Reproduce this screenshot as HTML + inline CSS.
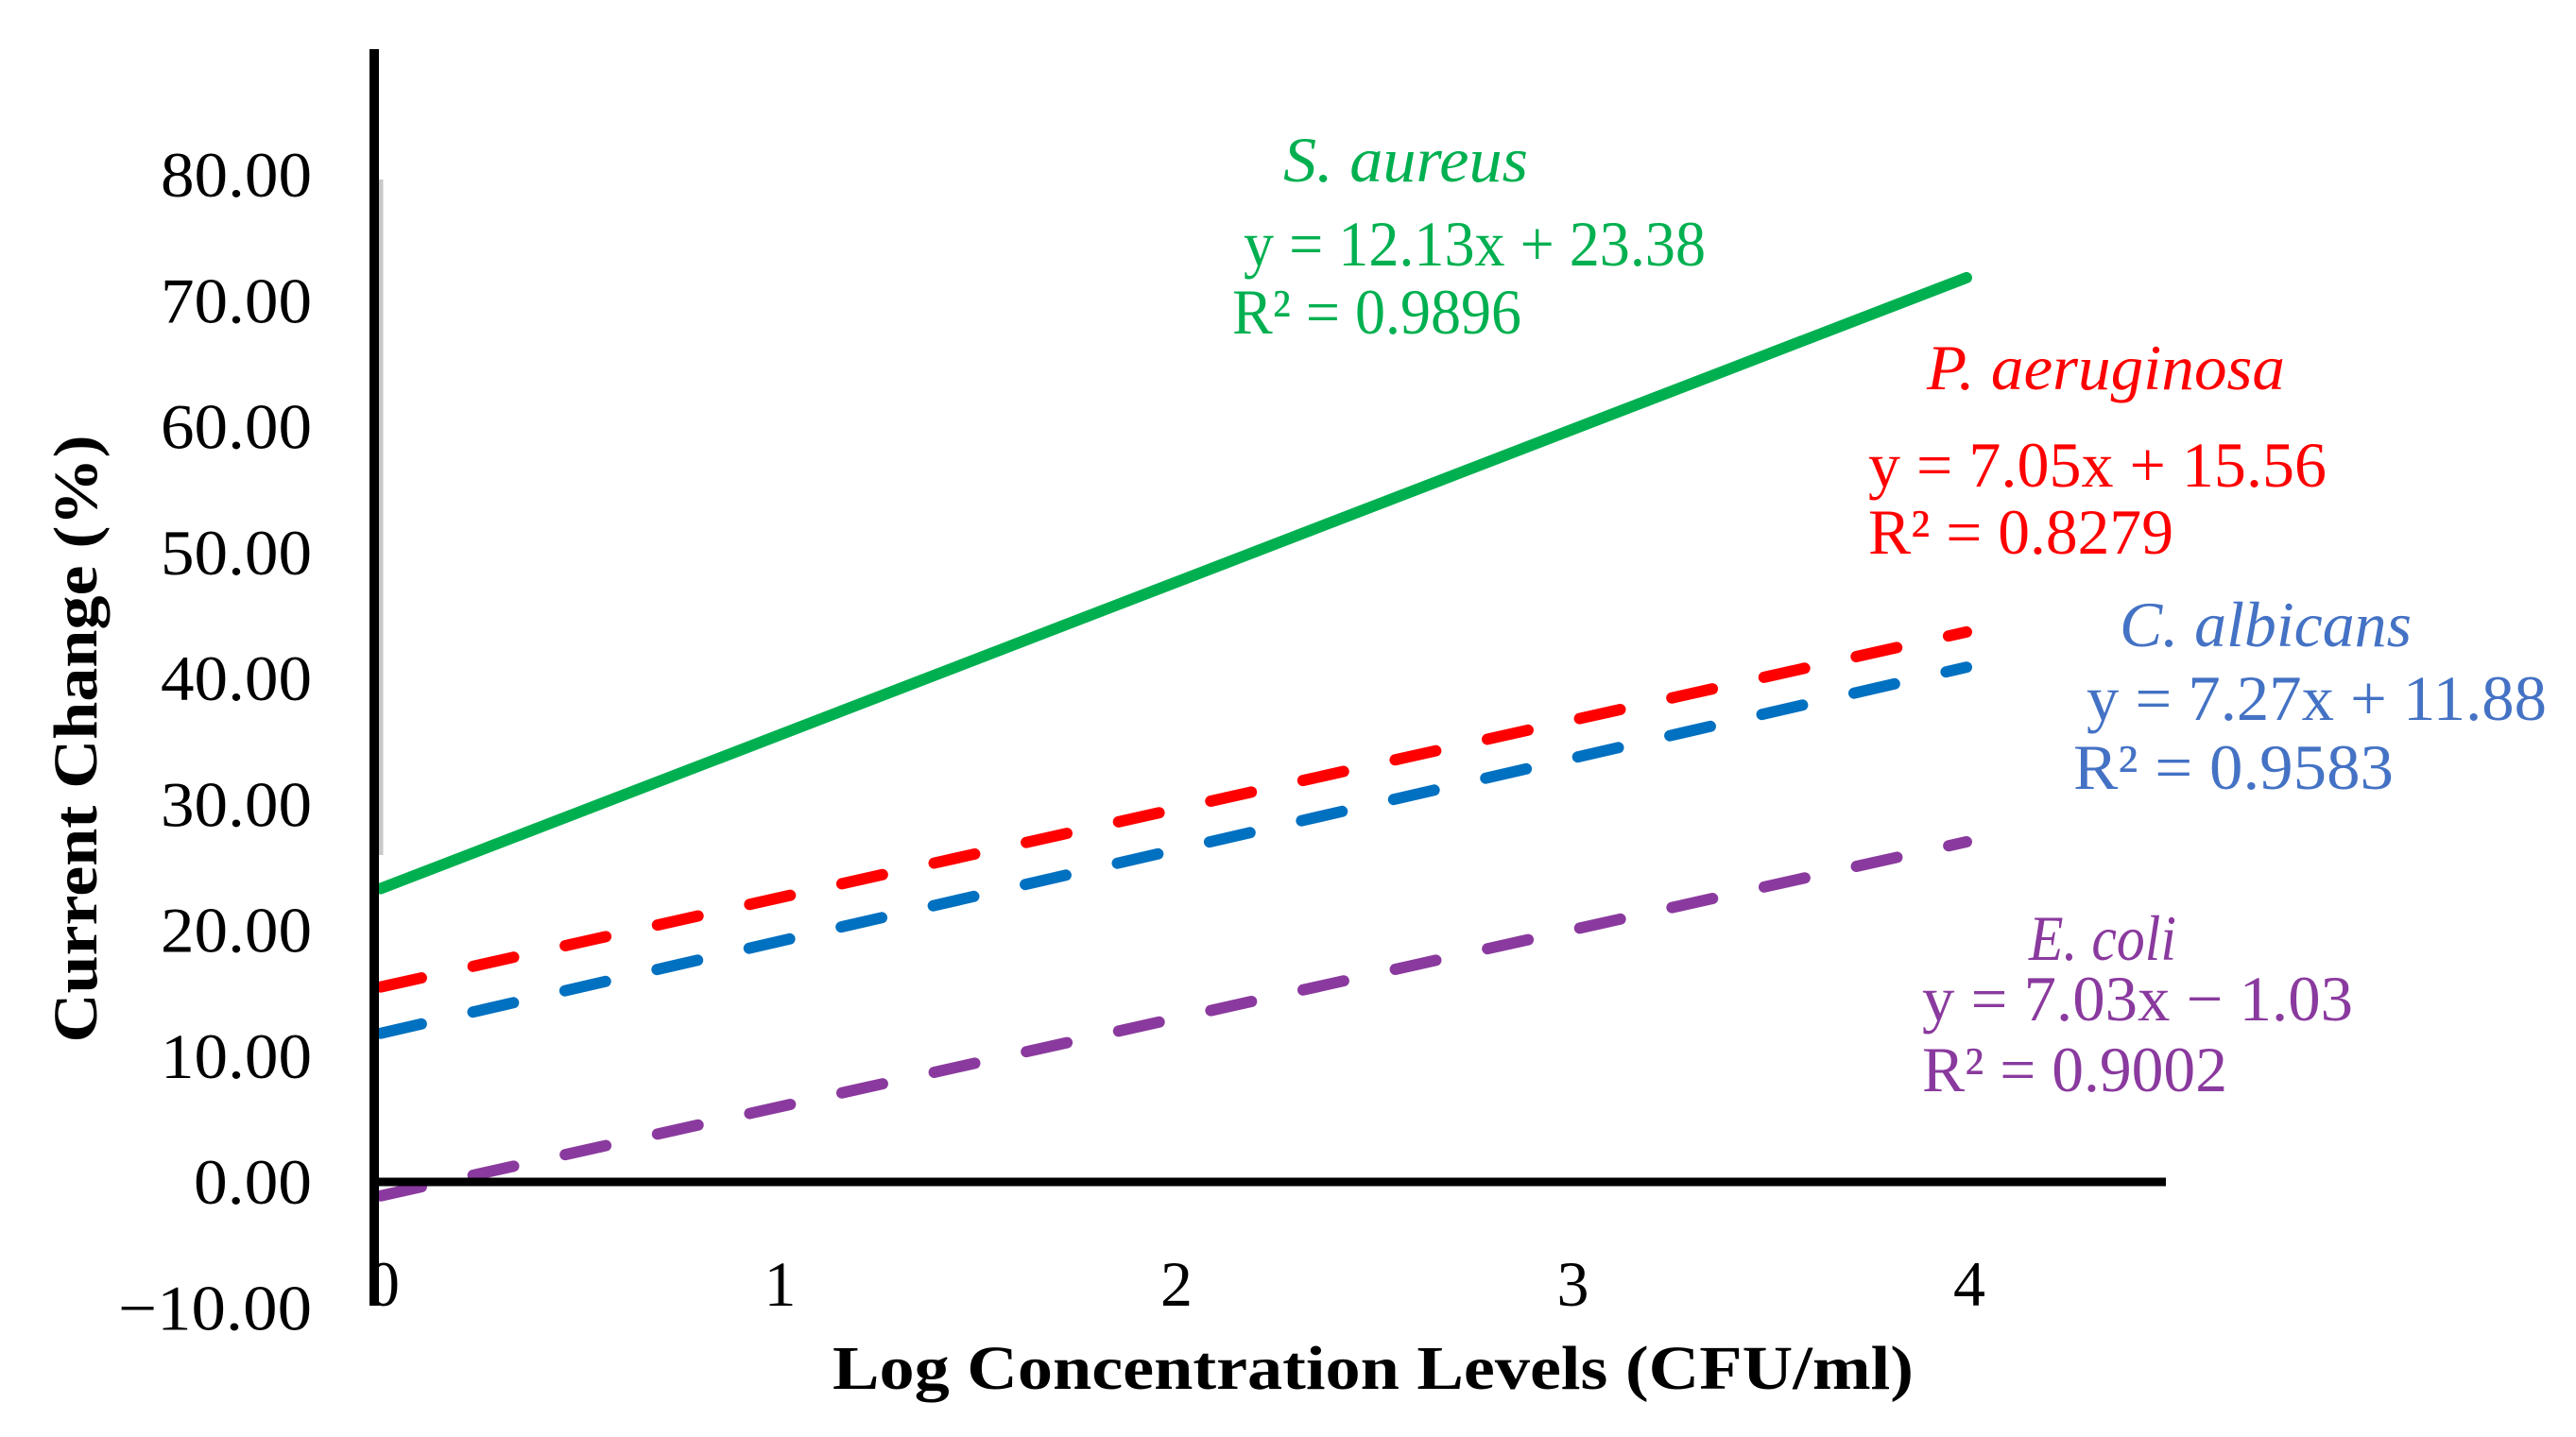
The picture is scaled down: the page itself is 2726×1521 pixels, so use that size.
<!DOCTYPE html>
<html><head><meta charset="utf-8"><style>
html,body{margin:0;padding:0;background:#fff;}
svg{display:block;}
text{font-family:"Liberation Serif",serif;}
</style></head><body>
<svg id="chart" width="2726" height="1521" viewBox="0 0 2726 1521" xmlns="http://www.w3.org/2000/svg">
<rect width="2726" height="1521" fill="#fff"/>
<g id="marks"></g>
<g id="yticks"></g>
<g id="xticks"></g>
<line x1="403" y1="190" x2="403" y2="905" stroke="#c8c8c8" stroke-width="5"/>
<line x1="396" y1="52" x2="396" y2="1382" stroke="#000" stroke-width="10"/>
<line x1="391" y1="1251" x2="2292" y2="1251" stroke="#000" stroke-width="9"/>
<text transform="translate(102,782) rotate(-90)" text-anchor="middle" font-size="66" font-weight="bold" textLength="643" lengthAdjust="spacingAndGlyphs">Current Change (%)</text>
<text x="1453" y="1470" text-anchor="middle" font-size="66" font-weight="bold" textLength="1144" lengthAdjust="spacingAndGlyphs">Log Concentration  Levels  (CFU/ml)</text>

<g fill="#00b050" font-size="68">
<text x="1358" y="192" font-style="italic" textLength="259" lengthAdjust="spacingAndGlyphs">S. aureus</text>
<text x="1316" y="281" textLength="489" lengthAdjust="spacingAndGlyphs">y  = 12.13x + 23.38</text>
<text x="1304" y="353" textLength="306" lengthAdjust="spacingAndGlyphs">R² = 0.9896</text>
</g>
<g fill="#ff0000" font-size="68">
<text x="2039" y="412" font-style="italic" textLength="379" lengthAdjust="spacingAndGlyphs">P. aeruginosa</text>
<text x="1977" y="515" textLength="485" lengthAdjust="spacingAndGlyphs">y   =  7.05x + 15.56</text>
<text x="1977" y="586" textLength="323" lengthAdjust="spacingAndGlyphs">R² =  0.8279</text>
</g>
<g fill="#4472c4" font-size="68">
<text x="2243" y="684" font-style="italic" textLength="309" lengthAdjust="spacingAndGlyphs">C. albicans</text>
<text x="2208" y="762" textLength="487" lengthAdjust="spacingAndGlyphs">y   =  7.27x + 11.88</text>
<text x="2194" y="835" textLength="339" lengthAdjust="spacingAndGlyphs">R²   =  0.9583</text>
</g>
<g fill="#8a3a9e" font-size="68">
<text x="2147" y="1016" font-style="italic" textLength="156" lengthAdjust="spacingAndGlyphs">E. coli</text>
<text x="2034" y="1080" textLength="456" lengthAdjust="spacingAndGlyphs">y   =  7.03x − 1.03</text>
<text x="2034" y="1155" textLength="323" lengthAdjust="spacingAndGlyphs">R² =  0.9002</text>
</g>
</svg>
<script>
const seriesNames = ["s-aureus", "p-aeruginosa", "c-albicans", "e-coli"];
const slopes = [12.13, 7.05, 7.27, 7.03];
const intercepts = [23.38, 15.56, 11.88, -1.03];
const xRange = [0, 4];
const yTickValues = [80, 70, 60, 50, 40, 30, 20, 10, 0, -10];
const yTickLabels = ["80.00","70.00","60.00","50.00","40.00","30.00","20.00","10.00","0.00","\u221210.00"];
const xTickValues = [0, 1, 2, 3, 4];
const xTickLabels = ["0","1","2","3","4"];

const colors = ["#00b050", "#ff0000", "#0070c0", "#8a3a9e"];
const dashes = [null, "44 56", "44 56", "44 56"];
const NS = "http://www.w3.org/2000/svg";
function xs(v){ return 403 + v * 419.5; }
function ys(v){ return 1252 - v * 13.325; }

const marks = document.getElementById("marks");
for (let i = 0; i < slopes.length; i++) {
  const l = document.createElementNS(NS, "line");
  
  
  l.setAttribute("x1", xs(xRange[0]));
  l.setAttribute("y1", ys(slopes[i] * xRange[0] + intercepts[i]));
  l.setAttribute("x2", xs(xRange[1]));
  l.setAttribute("y2", ys(slopes[i] * xRange[1] + intercepts[i]));
  l.setAttribute("stroke", colors[i]);
  l.setAttribute("stroke-width", "12");
  l.setAttribute("stroke-linecap", "round");
  if (dashes[i]) l.setAttribute("stroke-dasharray", dashes[i]);
  marks.appendChild(l);
}
const yt = document.getElementById("yticks");
for (let i = 0; i < yTickValues.length; i++) {
  const t = document.createElementNS(NS, "text");
  
  
  t.setAttribute("x", 330);
  t.setAttribute("y", ys(yTickValues[i]) + 22);
  t.setAttribute("text-anchor", "end");
  t.setAttribute("font-size", "68");
  t.setAttribute("textLength", yTickValues[i] < 0 ? "205" : (yTickValues[i] === 0 ? "125" : "160"));
  t.setAttribute("lengthAdjust", "spacingAndGlyphs");
  t.textContent = yTickLabels[i];
  yt.appendChild(t);
}
const xt = document.getElementById("xticks");
for (let i = 0; i < xTickValues.length; i++) {
  const t = document.createElementNS(NS, "text");
  
  
  t.setAttribute("x", xs(xTickValues[i]) + 3);
  t.setAttribute("y", 1382);
  t.setAttribute("text-anchor", "middle");
  t.setAttribute("font-size", "68");
  t.textContent = xTickLabels[i];
  xt.appendChild(t);
}
</script>
</body></html>
